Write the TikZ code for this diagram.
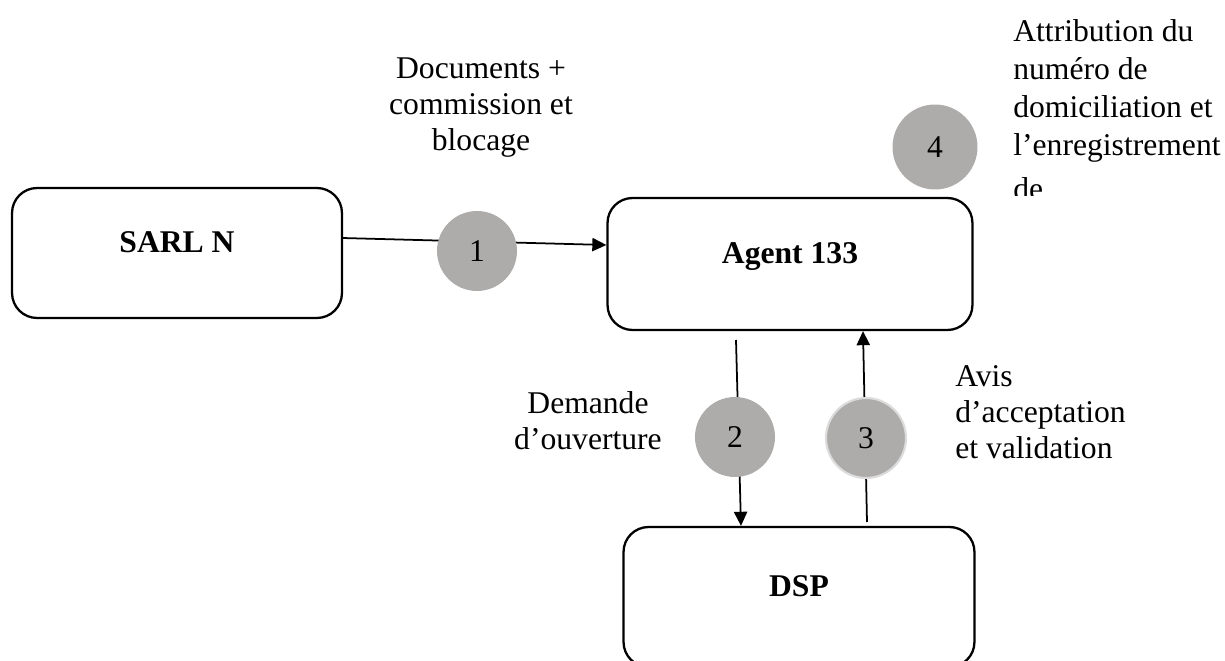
\documentclass[tikz,border=0pt]{standalone}
\usepackage{fontspec}
\setmainfont{Liberation Serif}
\usetikzlibrary{arrows.meta, positioning, calc}
\definecolor{pastille}{HTML}{AEABAB}
\definecolor{pastillering}{HTML}{DCDCDC}
\newcommand{\txtsize}{\fontsize{18}{20.6}\selectfont}

\begin{document}
\begin{tikzpicture}[x=0.02cm, y=-0.02cm,
    acteur/.style={draw, line width=1.3pt, rounded corners=0.5cm,
      font=\txtsize\bfseries, inner sep=0pt, text depth=0.45cm},
    pastille/.style={circle, fill=pastille, minimum size=1.6cm,
      inner sep=0pt, font=\txtsize},
    fleche/.style={line width=1pt, -{Triangle[length=8pt, width=7.5pt]}},
    legende/.style={font=\txtsize, inner sep=0pt}]
    \useasboundingbox (0,0) rectangle (1225,661);
    \clip (0,0) rectangle (1225,661);

    % les trois acteurs
    \node[acteur, minimum width=6.6cm, minimum height=2.6cm] (sarl) at (177,253) {SARL N};
    \node[acteur, minimum width=7.3cm, minimum height=2.64cm] (agent) at (790,264) {Agent 133};
    \node[acteur, minimum width=7.02cm, minimum height=2.8cm] (dsp) at (799,597) {DSP};

    % extremites des fleches
    \coordinate (d1) at (342,238);
    \coordinate (d2) at (736,340);
    \coordinate (d3) at (867,522);

    \draw[fleche] (d1) -- (agent.west |- 0,245);
    \draw[fleche] (d2) -- (dsp.north -| 741,0);
    \draw[fleche] (d3) -- (agent.south -| 863,0);

    % pastilles numerotees
    \node[pastille] (p1) at (477,251) {1};
    \node[pastille] (p2) at (735,437) {2};
    \node[pastille, draw=pastillering, line width=1.2pt] (p3) at (866,438) {3};
    \node[pastille, minimum size=1.7cm] (p4) at (935,147) {4};

    % legendes
    \node[legende, align=center, anchor=north] (l1) at (481,57)
      {Documents +\\commission et\\blocage};
    \node[legende, align=center, anchor=north] (l2) at (588,391)
      {Demande\\d’ouverture};
    \node[legende, align=left, anchor=north west] (l3) at (955,365)
      {Avis\\d’acceptation\\et validation};
    \begin{scope}
      \clip (990,0) rectangle (1225,196);
      \node[legende, font=\fontsize{18}{21.6}\selectfont, align=left,
        anchor=north west] (l4) at (1013,19)
        {Attribution du\\numéro de\\domiciliation et\\l’enregistrement\\[0.12cm]de};
    \end{scope}
\end{tikzpicture}
\end{document}
